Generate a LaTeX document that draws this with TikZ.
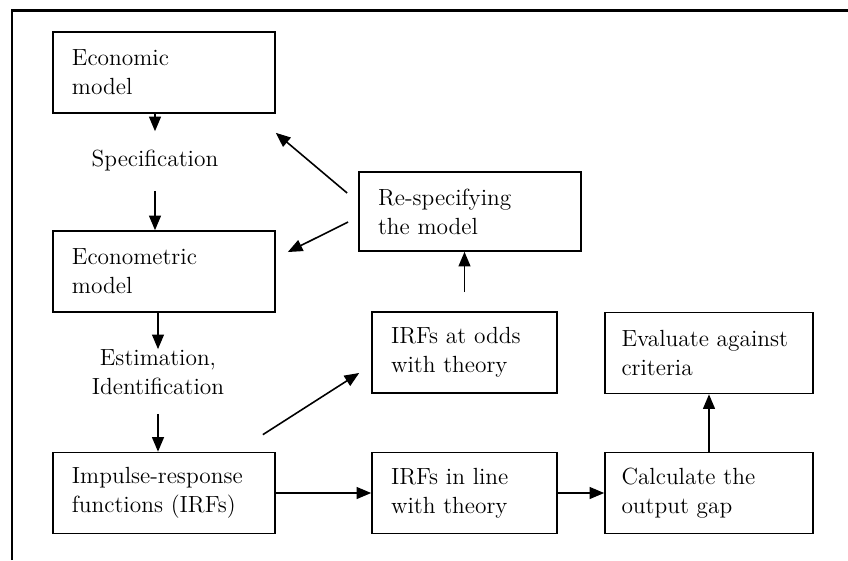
\documentclass[tikz,border=0pt]{standalone}
\usepackage{tikz,mathpazo}
\usetikzlibrary{arrows}

\tikzset{
	box/.style={draw, line width=1pt, align=left, minimum height=16.2mm, inner xsep=3.8mm, font=\fontsize{13.3}{16.5}\selectfont},
	wide/.style={box, text width=36.8mm},
	slim/.style={box, text width=29.4mm},
	mid/.style={box, inner xsep=3.3mm, text width=35mm},
	lbl/.style={align=center, inner xsep=0pt, inner ysep=3.8mm, font=\fontsize{13.3}{16.5}\selectfont},
	arr/.style={-triangle 45, line width=0.9pt}
}

\begin{document}
\begin{tikzpicture}[x=0.2mm, y=-0.2mm]
	\useasboundingbox (0,0) rectangle (848,560);
	\draw [line width=1.7pt] (12,560) -- (12,10) -- (848,10);
	% boxes
	\node [wide] (econ) at (164,72.5) {Economic\\model};
	\node [wide] (econometric) at (164,271.5) {Econometric\\model};
	\node [wide] (impulse) at (164,493) {Impulse-response\\functions (IRFs)};
	\node [wide, minimum height=15.8mm] (respec) at (470,211.5) {Re-specifying\\the model};
	\node [slim] (odds) at (464.5,352.5) {IRFs at odds\\with theory};
	\node [slim] (inline) at (464.5,493) {IRFs in line\\with theory};
	\node [mid] (evaluate) at (709,353) {Evaluate against\\criteria};
	\node [mid] (calc) at (709,493) {Calculate the\\output gap};
	% labels between the boxes
	\node [lbl] (spec) at (155,161) {Specification};
	\node [lbl, inner ysep=0pt] (estim) at (158,372) {Estimation,\\Identification};
	% arrows
	\draw [arr] (spec.north |- econ.south) -- (spec.north);
	\draw [arr] (spec.south) -- (spec.south |- econometric.north);
	\draw [arr] (estim.north |- econometric.south) -- (estim.north);
	\draw [arr] ([yshift=-3.8mm]estim.south) -- (estim.south |- impulse.north);
	\draw [arr] (impulse) -- (inline);
	\draw [arr] (inline) -- (calc);
	\draw [arr] (calc) -- (evaluate);
	\draw [arr, shorten <=3.8mm] (odds.north) -- (odds.north |- respec.south);
	\draw [arr] ([xshift=-2.2mm, yshift=3.7mm]respec.west) -- ([yshift=-3.8mm]econ.south east);
	\draw [arr] ([xshift=-2mm, yshift=-2.1mm]respec.west) -- ([xshift=2.4mm, yshift=3.9mm]econometric.east);
	\draw [arr] ([xshift=-2.6mm, yshift=3.4mm]impulse.north east) -- ([xshift=-2.4mm, yshift=-4.1mm]odds.west);
\end{tikzpicture}
\end{document}
